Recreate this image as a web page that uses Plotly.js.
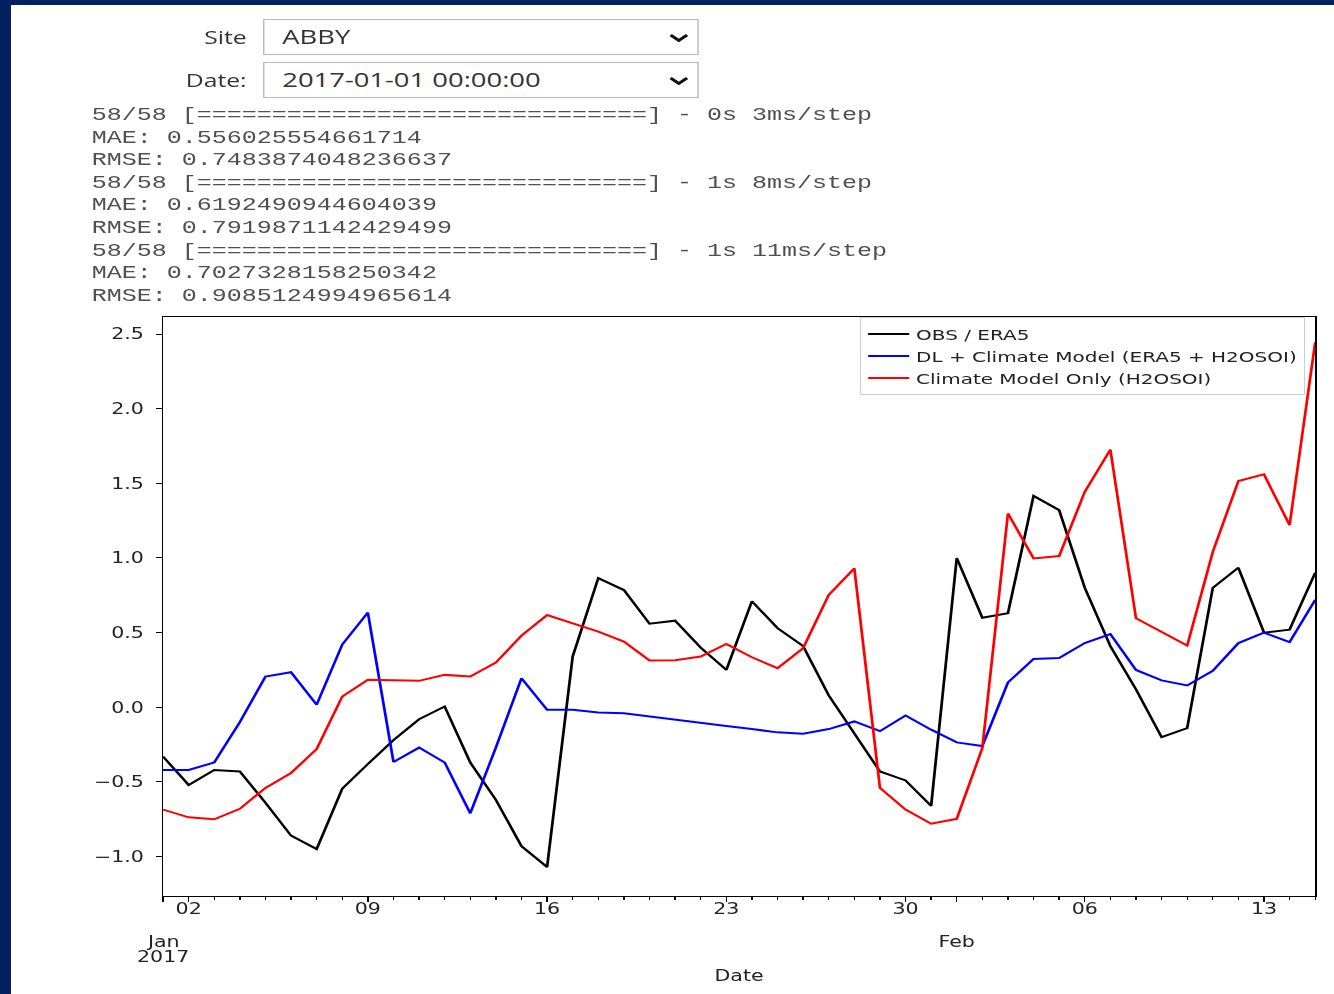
<!DOCTYPE html>
<html><head><meta charset="utf-8">
<script src="https://cdn.plot.ly/plotly-3.0.1.min.js"></script>
<style>
html,body{margin:0;padding:0;width:1334px;height:994px;overflow:hidden;background:#03205f;}
#page{position:absolute;left:11px;top:5px;width:1323px;height:989px;background:#fff;}
#wrap{position:absolute;left:0;top:0;width:974px;height:994px;transform:scaleX(1.37);transform-origin:0 0;}
.lbl{position:absolute;left:80px;width:100px;height:36px;line-height:36px;text-align:right;font-family:"Open Sans";font-size:18px;color:#333;}
.box{position:absolute;left:192px;width:318px;height:36px;box-sizing:border-box;border:1px solid #b8b8b8;background:#fff;font-family:"Open Sans";font-size:20px;color:#333;line-height:34px;padding-left:13px;}
.box svg{position:absolute;left:295px;top:13px;}
#out{position:absolute;left:67px;top:104px;margin:0;font-family:"Liberation Mono",monospace;font-size:18.25px;line-height:22.6px;color:#505050;white-space:pre;}
#plot{position:absolute;left:0;top:300px;width:974px;height:694px;}
</style>
</head><body>
<div id="page"></div>
<div id="wrap">
  <div class="lbl" style="top:19px;">Site</div>
  <div class="box" style="top:19px;">ABBY<svg width="15" height="10" viewBox="0 0 15 10"><polyline points="1.5,2 7.5,7.5 13.5,2" fill="none" stroke="#111" stroke-width="2.6"/></svg></div>
  <div class="lbl" style="top:62px;">Date:</div>
  <div class="box" style="top:62px;">2017-01-01 00:00:00<svg width="15" height="10" viewBox="0 0 15 10"><polyline points="1.5,2 7.5,7.5 13.5,2" fill="none" stroke="#111" stroke-width="2.6"/></svg></div>
  <pre id="out"></pre>
  <div id="plot"></div>
</div>
<script>
// ---- console output text ----
const outputLines = [
  "58/58 [==============================] - 0s 3ms/step",
  "MAE: 0.556025554661714",
  "RMSE: 0.7483874048236637",
  "58/58 [==============================] - 1s 8ms/step",
  "MAE: 0.6192490944604039",
  "RMSE: 0.7919871142429499",
  "58/58 [==============================] - 1s 11ms/step",
  "MAE: 0.7027328158250342",
  "RMSE: 0.9085124994965614"
];
document.getElementById('out').textContent = outputLines.join('\n');

// ---- chart data ----
const dates = [
  "2017-01-01","2017-01-02","2017-01-03","2017-01-04","2017-01-05","2017-01-06","2017-01-07","2017-01-08",
  "2017-01-09","2017-01-10","2017-01-11","2017-01-12","2017-01-13","2017-01-14","2017-01-15","2017-01-16",
  "2017-01-17","2017-01-18","2017-01-19","2017-01-20","2017-01-21","2017-01-22","2017-01-23","2017-01-24",
  "2017-01-25","2017-01-26","2017-01-27","2017-01-28","2017-01-29","2017-01-30","2017-01-31","2017-02-01",
  "2017-02-02","2017-02-03","2017-02-04","2017-02-05","2017-02-06","2017-02-07","2017-02-08","2017-02-09",
  "2017-02-10","2017-02-11","2017-02-12","2017-02-13","2017-02-14","2017-02-15"
];
const obsEra5 = [-0.33,-0.52,-0.42,-0.43,-0.64,-0.86,-0.95,-0.545,-0.38,-0.22,-0.08,0.005,-0.37,-0.62,-0.93,-1.07,
  0.34,0.865,0.785,0.56,0.58,0.40,0.25,0.71,0.53,0.41,0.08,-0.18,-0.43,-0.49,-0.66,1.0,
  0.6,0.63,1.416,1.32,0.8,0.41,0.12,-0.2,-0.14,0.8,0.935,0.5,0.52,0.9];
const dlModel = [-0.42,-0.42,-0.37,-0.10,0.206,0.235,0.017,0.42,0.634,-0.366,-0.27,-0.37,-0.71,-0.27,0.195,-0.017,
  -0.017,-0.035,-0.04,-0.06,-0.08,-0.105,-0.125,-0.146,-0.168,-0.177,-0.146,-0.095,-0.16,-0.055,-0.15,-0.235,
  -0.26,0.166,0.324,0.33,0.43,0.49,0.25,0.18,0.146,0.244,0.43,0.50,0.436,0.72];
const climateOnly = [-0.685,-0.737,-0.75,-0.68,-0.54,-0.44,-0.28,0.072,0.184,0.18,0.177,0.217,0.206,0.30,0.48,0.618,
  0.563,0.507,0.44,0.313,0.315,0.34,0.424,0.335,0.262,0.396,0.752,0.93,-0.54,-0.685,-0.78,-0.747,
  -0.273,1.298,0.997,1.013,1.443,1.726,0.596,0.507,0.413,1.04,1.516,1.56,1.22,2.445];
const seriesNames = ["OBS / ERA5","DL + Climate Model (ERA5 + H2OSOI)","Climate Model Only (H2OSOI)"];
const seriesColors = ["#000000","#0000ff","#ff0000"];

const xTickVals = ["2017-01-01","2017-01-02","2017-01-09","2017-01-16","2017-01-23","2017-01-30","2017-02-01","2017-02-06","2017-02-13"];
const xTickText = ["","02","09","16","23","30","","06","13"];
const monthTickVals = ["2017-01-01","2017-02-01"];
const monthTickText = [["Jan","2017"],["Feb"]];
const yTickVals = [-1.0,-0.5,0.0,0.5,1.0,1.5,2.0,2.5];
const yTickText = ["\u22121.0","\u22120.5","0.0","0.5","1.0","1.5","2.0","2.5"];

const ys = [obsEra5, dlModel, climateOnly];
const traces = ys.map((y,i)=>({
  x: dates, y: y, type:'scatter', mode:'lines', name: seriesNames[i],
  line:{color: seriesColors[i], width:2}
}));

const annotations = [];
monthTickVals.forEach((d,i)=>{
  monthTickText[i].forEach((t,j)=>{
    annotations.push({x:d, xref:'x', y:0, yref:'paper', yanchor:'top', xanchor:'center',
      yshift:-35 - 15*j, text:t, showarrow:false, font:{family:'DejaVu Sans', size:15, color:'#222'}});
  });
});

const layout = {
  width:974, height:694,
  margin:{l:119, r:14, t:17, b:98},
  paper_bgcolor:'rgba(0,0,0,0)', plot_bgcolor:'#ffffff',
  font:{family:'DejaVu Sans', size:15, color:'#222'},
  showlegend:true,
  legend:{x:0.9913, y:1.0, xanchor:'right', yanchor:'top', bgcolor:'rgba(255,255,255,0.85)',
    bordercolor:'#cccccc', borderwidth:1, font:{size:14.6, color:'#222'}, tracegroupgap:0},
  xaxis:{type:'date', range:[dates[0], dates[dates.length-1]], tickmode:'array', tickvals:xTickVals, ticktext:xTickText,
    ticks:'outside', ticklen:5, tickwidth:1, tickcolor:'#000', showline:true, linecolor:'#000', linewidth:1, mirror:true,
    showgrid:false, zeroline:false, ticklabelstandoff:-6,
    minor:{ticks:'outside', ticklen:2.5, tickwidth:1, tickcolor:'#000', dtick:86400000, tick0:'2017-01-01', showgrid:false},
    title:{text:'Date', standoff:53, font:{size:15, color:'#222'}}},
  yaxis:{range:[-1.264, 2.614], tickmode:'array', tickvals:yTickVals, ticktext:yTickText,
    ticks:'outside', ticklen:4, tickwidth:1, tickcolor:'#000', showline:true, linecolor:'#000', linewidth:1, mirror:true,
    showgrid:false, zeroline:false, ticklabelstandoff:6},
  annotations: annotations
};
Plotly.newPlot('plot', traces, layout, {displayModeBar:false, staticPlot:true});
</script>
</body></html>
